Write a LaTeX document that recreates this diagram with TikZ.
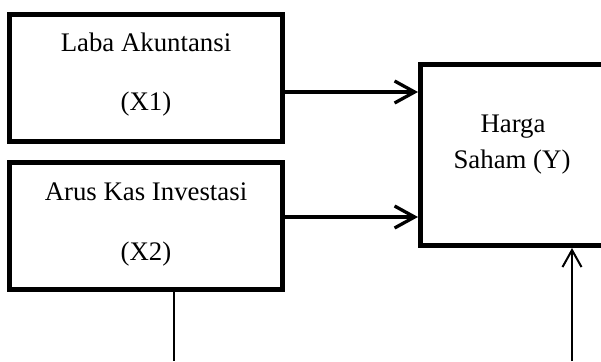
\documentclass[tikz,border=0pt]{standalone}
\usepackage{fontspec}
\setmainfont{Liberation Serif}
\usetikzlibrary{arrows.meta}
\begin{document}
\begin{tikzpicture}[x=1pt,y=-1pt,
  box/.style={draw, line width=5pt, rectangle, inner sep=0pt},
  lbl/.style={anchor=base, inner sep=0pt, font=\fontsize{26.8}{30}\selectfont},
  thick arrow/.style={line width=3.3pt, -{Straight Barb[length=20pt,width=22pt]}},
  thin line/.style={line width=2pt},
  thin arrow/.style={line width=2pt, -{Straight Barb[length=17pt,width=19pt]}}]
\clip (0,0) rectangle (601,361);
\useasboundingbox (0,0) rectangle (601,361);
\node[box, minimum width=273pt, minimum height=127pt] (b1) at (146,78) {};
\node[box, minimum width=273pt, minimum height=127pt] (b2) at (146,226) {};
\node[box, minimum width=183pt, minimum height=181pt] (by) at (512,155) {};
\node[lbl] (t1a) at (146,52) {Laba Akuntansi};
\node[lbl] (t1b) at (146,110) {(X1)};
\node[lbl] (t2a) at (146,200) {Arus Kas Investasi};
\node[lbl] (t2b) at (146,260) {(X2)};
\node[lbl] (tya) at (513,132) {Harga};
\node[lbl] (tyb) at (512,168) {Saham (Y)};
\coordinate (a1) at (0,92);
\coordinate (a2) at (0,217);
\coordinate (e1) at (174,361);
\coordinate (e2) at (572,361);
\draw[thick arrow] (b1.east |- a1) -- (by.west |- a1);
\draw[thick arrow] (b2.east |- a2) -- (by.west |- a2);
\draw[thin line] (b2.south -| e1) -- (e1);
\draw[thin arrow] (e2) -- (by.south -| e2);
\end{tikzpicture}
\end{document}
